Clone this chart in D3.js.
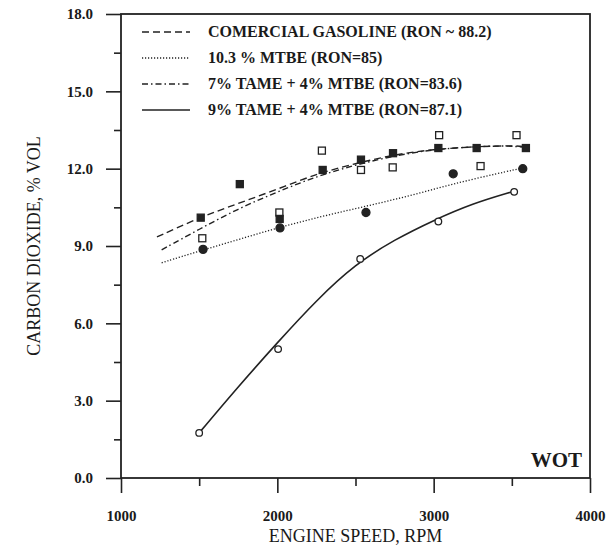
<!DOCTYPE html>
<html>
<head>
<meta charset="utf-8">
<script src="https://cdn.jsdelivr.net/npm/d3@7"></script>
<style>
  body { margin: 0; background: #fff; }
  svg text { font-family: "Liberation Serif", "Times New Roman", serif; fill: #1a1a1a; }
  .axis .domain { display: none; }
  .axis line { stroke: #222; stroke-width: 1.6; }
  .axis text { font-size: 15px; font-weight: bold; }
</style>
</head>
<body>
<div id="chart"></div>
<script>
// legend / series names
var seriesNames = [
  "COMERCIAL GASOLINE (RON ~ 88.2)",
  "10.3 % MTBE (RON=85)",
  "7% TAME + 4% MTBE (RON=83.6)",
  "9% TAME + 4% MTBE (RON=87.1)"
];

// measured points [rpm, CO2 %vol]
var gasolinePts = [[1510,10.1],[1760,11.4],[2015,10.05],[2290,11.95],[2535,12.35],[2740,12.6],[3030,12.8],[3275,12.8],[3590,12.8]];
var mtbePts = [[1525,8.87],[2017,9.7],[2567,10.3],[3125,11.8],[3570,12.0]];
var tamePts = [[1520,9.3],[2013,10.3],[2285,12.7],[2535,11.95],[2738,12.05],[3035,13.3],[3300,12.1],[3530,13.3]];
var tame9Pts = [[1500,1.75],[2005,5.0],[2530,8.5],[3030,9.95],[3515,11.1]];

// fitted trend curves
var gasolineFit = [[1230,9.35],[1500,10.1],[1750,10.65],[2000,11.2],[2250,11.8],[2500,12.2],[2750,12.55],[3000,12.75],[3250,12.85],[3500,12.9],[3600,12.85]];
var mtbeFit = [[1260,8.35],[1500,8.8],[1750,9.25],[2000,9.7],[2250,10.1],[2500,10.45],[2750,10.8],[3000,11.2],[3250,11.6],[3550,12.0]];
var tameFit = [[1260,8.85],[1500,9.65],[1750,10.45],[2000,11.1],[2250,11.7],[2500,12.15],[2750,12.5],[3000,12.75],[3250,12.85],[3500,12.9],[3600,12.8]];
var tame9Fit = [[1500,1.75],[1750,3.55],[2000,5.25],[2250,6.9],[2500,8.3],[2750,9.25],[3000,10.0],[3250,10.65],[3500,11.1]];

var yTicks = [0, 3, 6, 9, 12, 15, 18];
var yMinorTicks = [1.5, 4.5, 7.5, 10.5, 13.5, 16.5];
var xTicks = [1000, 2000, 3000, 4000];
var xMinorTicks = [1500, 2500, 3500];

window.onload = function() {

var width = 606, height = 548;
var left = 121, right = 590, top = 14, bottom = 478;

var svg = d3.select("#chart")
    .append("svg")
    .attr("width", width)
    .attr("height", height);

var x = d3.scaleLinear().domain([1000, 4000]).range([left, right]);
var y = d3.scaleLinear().domain([0, 18]).range([bottom, top]);

// axes with long major ticks and short minor ones
svg.append("g")
    .attr("class", "axis")
    .attr("transform", "translate(" + left + ",0)")
    .call(d3.axisLeft(y).tickValues(yTicks).tickSize(15).tickPadding(13).tickFormat(d3.format(".1f")));
svg.append("g")
    .attr("class", "axis")
    .attr("transform", "translate(" + left + ",0)")
    .call(d3.axisLeft(y).tickValues(yMinorTicks).tickSize(7).tickFormat(""));
svg.append("g")
    .attr("class", "axis")
    .attr("transform", "translate(0," + bottom + ")")
    .call(d3.axisBottom(x).tickValues(xTicks).tickSize(15).tickPadding(17).tickFormat(d3.format("d")));
svg.append("g")
    .attr("class", "axis")
    .attr("transform", "translate(0," + bottom + ")")
    .call(d3.axisBottom(x).tickValues(xMinorTicks).tickSize(8).tickFormat(""));

// frame
svg.append("rect")
    .attr("x", left)
    .attr("y", top)
    .attr("width", right - left)
    .attr("height", bottom - top)
    .attr("fill", "none")
    .attr("stroke", "#222")
    .attr("stroke-width", 1.8);

// axis titles
svg.append("text")
    .attr("x", (left + right) / 2)
    .attr("y", 542)
    .attr("text-anchor", "middle")
    .style("font-size", "18px")
    .text("ENGINE SPEED,  RPM");
svg.append("text")
    .attr("transform", "translate(40," + (top + bottom) / 2 + ") rotate(-90)")
    .attr("text-anchor", "middle")
    .style("font-size", "18px")
    .text("CARBON DIOXIDE,  % VOL");

svg.append("text")
    .attr("x", 582)
    .attr("y", 467)
    .attr("text-anchor", "end")
    .style("font-size", "21px")
    .style("font-weight", "bold")
    .text("WOT");

var styles = [
  { dash: "7,4", width: 1.4 },
  { dash: "1.2,1.8", width: 1.3 },
  { dash: "6,3,1.5,3", width: 1.4 },
  { dash: null, width: 1.6 }
];
var fits = [gasolineFit, mtbeFit, tameFit, tame9Fit];

var line = d3.line()
    .x(function(d) { return x(d[0]); })
    .y(function(d) { return y(d[1]); })
    .curve(d3.curveBasis);

fits.forEach(function(f, i) {
  svg.append("path")
      .datum(f)
      .attr("d", line)
      .attr("fill", "none")
      .attr("stroke", "#222")
      .attr("stroke-width", styles[i].width)
      .attr("stroke-dasharray", styles[i].dash);
});

// markers
function squares(pts, filled) {
  svg.append("g").selectAll("rect")
      .data(pts)
      .enter().append("rect")
      .attr("x", function(d) { return x(d[0]) - 3.5; })
      .attr("y", function(d) { return y(d[1]) - 3.5; })
      .attr("width", 7)
      .attr("height", 7)
      .attr("fill", filled ? "#222" : "#fff")
      .attr("stroke", "#222")
      .attr("stroke-width", 1.3);
}
function circles(pts, filled) {
  svg.append("g").selectAll("circle")
      .data(pts)
      .enter().append("circle")
      .attr("cx", function(d) { return x(d[0]); })
      .attr("cy", function(d) { return y(d[1]); })
      .attr("r", filled ? 4 : 3.3)
      .attr("fill", filled ? "#222" : "#fff")
      .attr("stroke", "#222")
      .attr("stroke-width", 1.3);
}
squares(tamePts, false);
squares(gasolinePts, true);
circles(mtbePts, true);
circles(tame9Pts, false);

// legend
var legend = svg.append("g");
var rowY = [32, 58, 84, 110];
seriesNames.forEach(function(name, i) {
  legend.append("line")
      .attr("x1", 142).attr("x2", 190)
      .attr("y1", rowY[i]).attr("y2", rowY[i])
      .attr("stroke", "#222")
      .attr("stroke-width", styles[i].width)
      .attr("stroke-dasharray", styles[i].dash);
  legend.append("text")
      .attr("x", 208)
      .attr("y", rowY[i] + 5)
      .style("font-size", "16px")
      .style("font-weight", "bold")
      .text(name);
});

}
</script>
</body>
</html>
